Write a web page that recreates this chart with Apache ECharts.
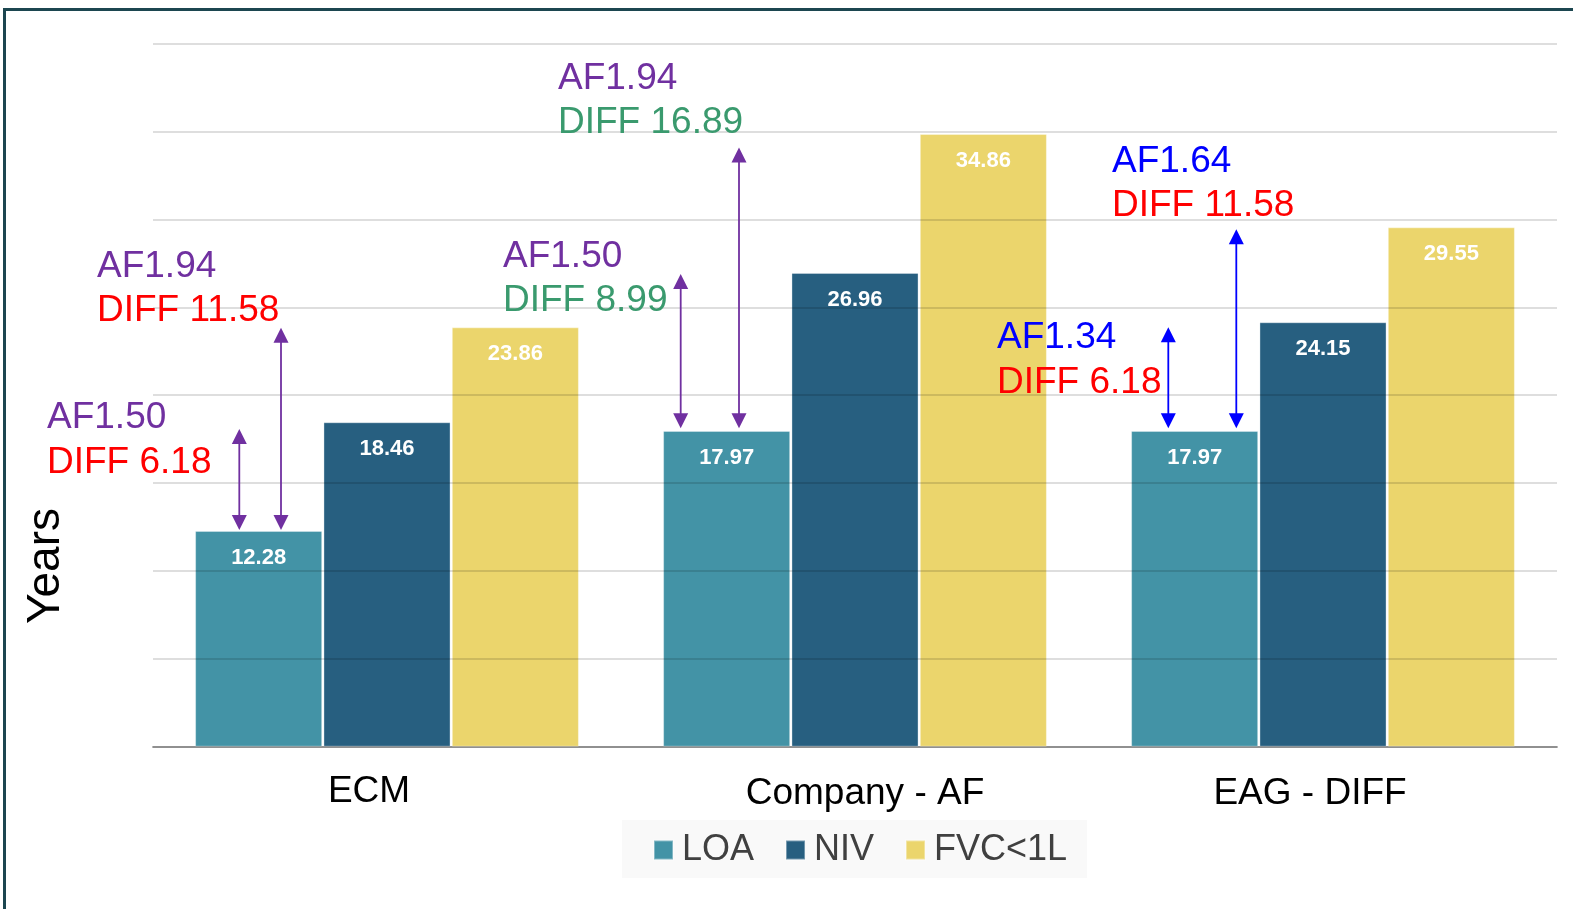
<!DOCTYPE html>
<html>
<head>
<meta charset="utf-8">
<script src="https://cdn.jsdelivr.net/npm/echarts@6/dist/echarts.min.js"></script>
<style>
html,body{margin:0;padding:0;background:#fff;}
#chart{width:1573px;height:909px;}
</style>
</head>
<body>
<div id="chart"></div>
<script>
// ---- data ----
const categories = ['ECM', 'Company - AF', 'EAG - DIFF'];
const seriesNames = ['LOA', 'NIV', 'FVC<1L'];
const loaValues = [12.28, 17.97, 17.97];
const nivValues = [18.46, 26.96, 24.15];
const fvcValues = [23.86, 34.86, 29.55];
const yAxisTitle = 'Years';
// annotation arrows
const arrowCategory = [0, 0, 1, 1, 2, 2];
const arrowFrom = [12.33, 12.33, 18.12, 18.12, 18.12, 18.12];
const arrowTo = [18.08, 23.84, 26.9, 34.1, 23.86, 29.44];
const afLabels = ['AF1.50', 'AF1.94', 'AF1.50', 'AF1.94', 'AF1.34', 'AF1.64'];
const diffLabels = ['DIFF 6.18', 'DIFF 11.58', 'DIFF 8.99', 'DIFF 16.89', 'DIFF 6.18', 'DIFF 11.58'];

// ---- layout / style ----
const FONT = '"Liberation Sans", Arial, Helvetica, sans-serif';
const PURPLE = '#7030a0', BLUE = '#0000ff', RED = '#ff0000', GREEN = '#3a9a6e';
const arrowXOffset = [-147.7, -106, -174.3, -116, -154.7, -86.7];
const arrowColor = [PURPLE, PURPLE, PURPLE, PURPLE, BLUE, BLUE];
const afColor = [PURPLE, PURPLE, PURPLE, PURPLE, BLUE, BLUE];
const diffColor = [RED, RED, GREEN, GREEN, RED, RED];
const textPos = [[47, 418, 463], [97, 267, 311], [503, 257, 301], [558, 79, 123], [997, 338, 383], [1112, 162, 206]];
const barColors = ['#4393a6', '#275f80', '#ebd56c'];

const chart = echarts.init(document.getElementById('chart'), null, {renderer: 'canvas'});

const barLabel = {
  show: true, position: 'insideTop', distance: 16,
  color: '#ffffff', fontFamily: FONT, fontWeight: 'bold', fontSize: 22,
  formatter: p => p.value.toFixed(2)
};
function barSeries(name, data, color) {
  return {
    name: name, type: 'bar', data: data, barGap: '1%', barCategoryGap: '18%',
    itemStyle: {color: color, borderColor: 'rgba(255,255,255,0.35)', borderWidth: 1},
    label: barLabel, z: 2
  };
}

const arrowData = arrowCategory.map((c, i) => [c, arrowFrom[i], arrowTo[i], i]);

const graphics = [{
  type: 'rect', silent: true, z: 100,
  shape: {x: 4.5, y: 9.5, width: 3000, height: 3000},
  style: {fill: 'none', stroke: '#1c4650', lineWidth: 3}
}, {
  type: 'text', x: 46, y: 566, rotation: Math.PI / 2, z: 50,
  style: {text: yAxisTitle, fill: '#000', font: '46px ' + FONT, textAlign: 'center', textVerticalAlign: 'middle'}
}];
textPos.forEach((p, i) => {
  graphics.push({type: 'text', x: p[0], y: p[1], z: 50,
    style: {text: afLabels[i], fill: afColor[i], font: '37px ' + FONT, textAlign: 'left', textVerticalAlign: 'middle'}});
  graphics.push({type: 'text', x: p[0], y: p[2], z: 50,
    style: {text: diffLabels[i], fill: diffColor[i], font: '37px ' + FONT, textAlign: 'left', textVerticalAlign: 'middle'}});
});

const labelPad = [[0, 36, 0, 0], [2, 0, 0, 20], [2, 26, 0, 0]];
const rich = {};
labelPad.forEach((p, i) => { rich['c' + i] = {fontSize: 37, fontFamily: FONT, color: '#000', padding: p}; });

chart.setOption({
  animation: false,
  backgroundColor: '#ffffff',
  textStyle: {fontFamily: FONT},
  grid: {left: 153, right: 16, top: 43.7, bottom: 162.3, containLabel: false},
  legend: {
    data: seriesNames, left: 622, top: 820,
    backgroundColor: '#f9f9f9', padding: [12, 20, 10, 31],
    itemGap: 31, itemWidth: 19, itemHeight: 19, icon: 'rect',
    textStyle: {fontSize: 36, color: '#404040', fontFamily: FONT, padding: [0, 0, 0, 4]}
  },
  xAxis: {
    type: 'category', data: categories,
    axisLine: {lineStyle: {color: '#a6a6a6', width: 2}},
    axisTick: {show: false},
    axisLabel: {margin: 27, formatter: (v, i) => '{c' + i + '|' + v + '}', rich: rich}
  },
  yAxis: {
    type: 'value', min: 0, max: 40, interval: 5, z: 3,
    axisLabel: {show: false}, axisTick: {show: false}, axisLine: {show: false},
    splitLine: {lineStyle: {color: 'rgba(0,0,0,0.13)', width: 2}}
  },
  series: [
    barSeries(seriesNames[0], loaValues, barColors[0]),
    barSeries(seriesNames[1], nivValues, barColors[1]),
    barSeries(seriesNames[2], fvcValues, barColors[2]),
    {
      type: 'custom', name: 'arrows', data: arrowData, z: 10, silent: true,
      encode: {x: 0, y: [1, 2]},
      renderItem: function (params, api) {
        const idx = api.value(3);
        const p1 = api.coord([api.value(0), api.value(1)]);
        const p2 = api.coord([api.value(0), api.value(2)]);
        const x = p1[0] + arrowXOffset[idx];
        const yb = p1[1], yt = p2[1];
        const c = arrowColor[idx];
        const hw = 7.5, hh = 15;
        return {
          type: 'group',
          children: [
            {type: 'line', shape: {x1: x, y1: yt + hh - 1, x2: x, y2: yb - hh + 1}, style: {stroke: c, lineWidth: 1.8}},
            {type: 'polygon', shape: {points: [[x, yt], [x - hw, yt + hh], [x + hw, yt + hh]]}, style: {fill: c}},
            {type: 'polygon', shape: {points: [[x, yb], [x - hw, yb - hh], [x + hw, yb - hh]]}, style: {fill: c}}
          ]
        };
      }
    }
  ],
  graphic: graphics
});
</script>
</body>
</html>
